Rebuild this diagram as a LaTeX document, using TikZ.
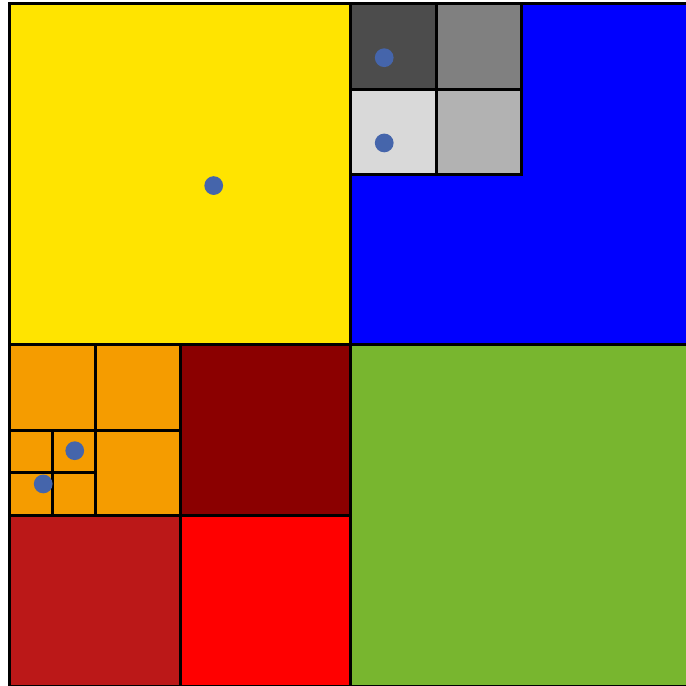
\documentclass[tikz,border=0pt]{standalone}
\usetikzlibrary{positioning}
\definecolor{qyellow}{HTML}{FFE400}
\definecolor{qblue}{HTML}{0000FF}
\definecolor{qorange}{HTML}{F59C00}
\definecolor{qdarkred}{HTML}{8B0000}
\definecolor{qbrick}{HTML}{BB1818}
\definecolor{qred}{HTML}{FF0000}
\definecolor{qgreen}{HTML}{78B62F}
\definecolor{qdot}{HTML}{4565AB}

\begin{document}
\begin{tikzpicture}[
    cell/.style={draw=black, line width=1pt},
    point/.style={circle, fill=qdot, inner sep=0pt, minimum size=0.22cm}
]
    \useasboundingbox (-0.117,0) rectangle (7.93,8.047);
    \clip (-0.117,0) rectangle (7.93,8.047);

    % four quadrants
    \draw[cell, fill=qyellow] (0,4) rectangle (4,8);
    \draw[cell, fill=qblue] (4,4) rectangle (8,8);
    \draw[cell, fill=qgreen] (4,0) rectangle (8,4);

    % south-west quadrant
    \draw[cell, fill=qorange] (0,2) rectangle (2,4);
    \draw[cell, fill=qdarkred] (2,2) rectangle (4,4);
    \draw[cell, fill=qbrick] (0,0) rectangle (2,2);
    \draw[cell, fill=qred] (2,0) rectangle (4,2);
    \foreach \x/\y in {0/3, 1/3, 1/2}
        \draw[cell, fill=qorange] (\x,\y) rectangle ++(1,1);
    \foreach \x/\y in {0/2, 0.5/2, 0/2.5, 0.5/2.5}
        \draw[cell, fill=qorange] (\x,\y) rectangle ++(0.5,0.5);

    % grey cells in the blue quadrant
    \draw[cell, fill=black!70] (4,7) rectangle (5,8);
    \draw[cell, fill=black!50] (5,7) rectangle (6,8);
    \draw[cell, fill=black!15] (4,6) rectangle (5,7);
    \draw[cell, fill=black!30] (5,6) rectangle (6,7);

    % outer frame
    \draw[cell] (0,0) rectangle (8,8);

    % sample points
    \node[point] (p1) at (2.39,5.87) {};
    \node[point] (p2) at (4.39,7.37) {};
    \node[point] (p3) at (4.39,6.37) {};
    \node[point] (p4) at (0.76,2.76) {};
    \node[point] (p5) at (0.39,2.37) {};
\end{tikzpicture}
\end{document}
